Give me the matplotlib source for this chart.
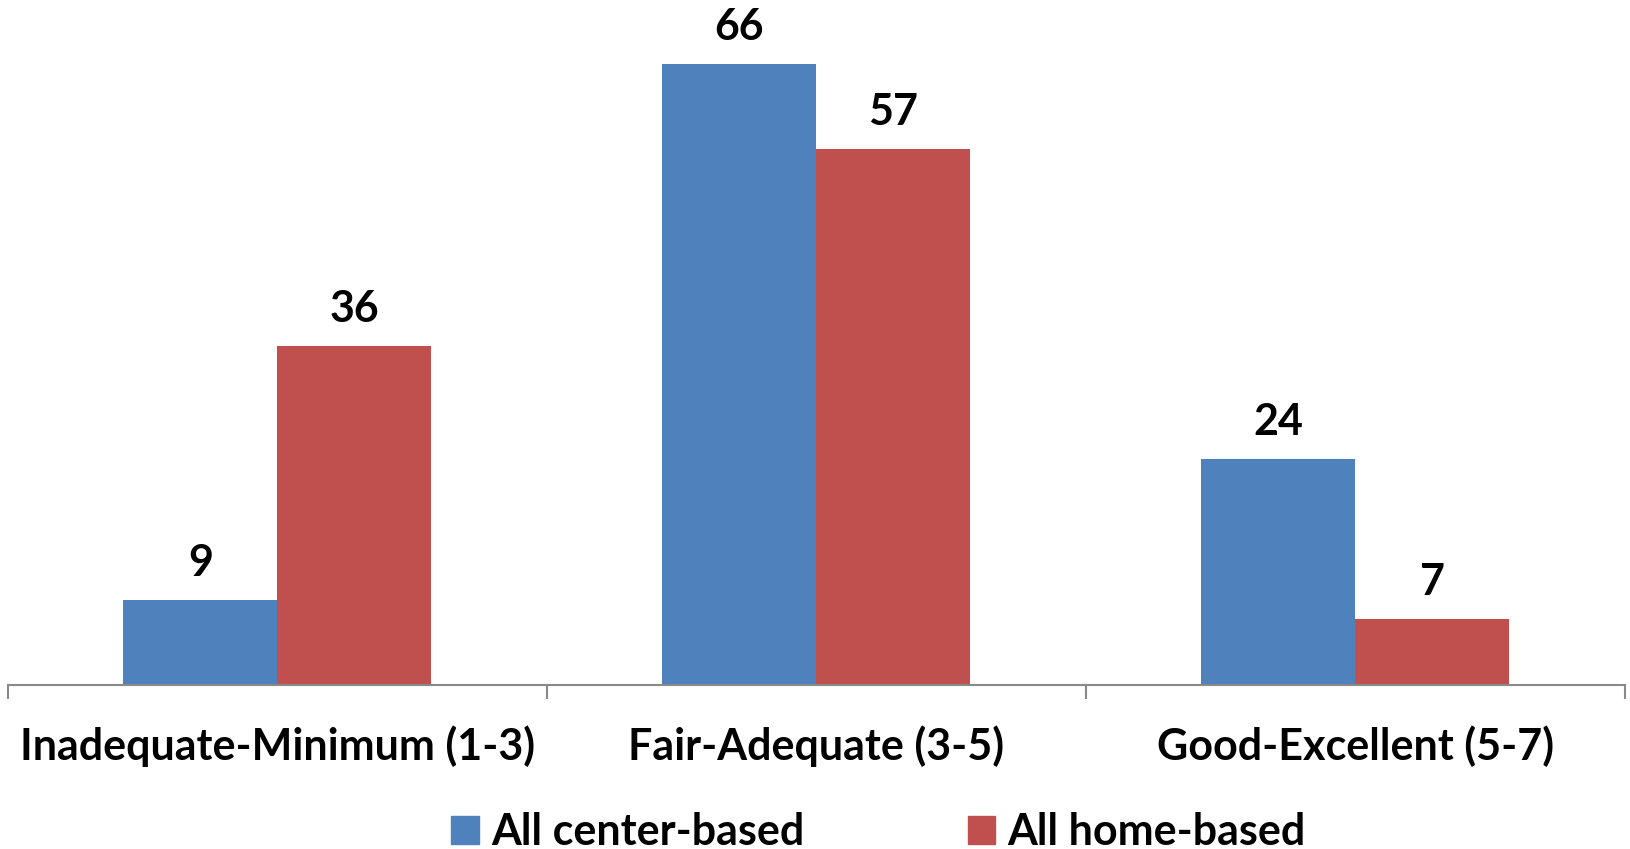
import numpy as np
import matplotlib.pyplot as plt
from matplotlib.patches import Patch

categories = ["Inadequate-Minimum (1-3)", "Fair-Adequate (3-5)", "Good-Excellent (5-7)"]
series_names = ["All center-based", "All home-based"]
center_based = [9, 66, 24]
home_based = [36, 57, 7]

BLUE = "#4F81BD"
RED = "#C0504D"
GRID = "#898989"
FS = 31

plt.rcParams["font.family"] = ["Lato", "DejaVu Sans"]
plt.rcParams["font.weight"] = "bold"

fig = plt.figure(figsize=(16.3, 8.49), dpi=100)
ax = fig.add_axes([0.0049, 0.1932, 0.992, 0.7974])

x = np.arange(len(categories))
w = 0.2857
bars_c = ax.bar(x - w / 2, center_based, w, color=BLUE, label=series_names[0])
bars_h = ax.bar(x + w / 2, home_based, w, color=RED, label=series_names[1])

for bars, vals in [(bars_c, center_based), (bars_h, home_based)]:
    for b, v in zip(bars, vals):
        ax.annotate(str(v), (b.get_x() + b.get_width() / 2, v),
                    xytext=(0, 27), textcoords="offset points",
                    ha="center", va="center", fontsize=FS, fontweight="bold")

ax.set_xlim(-0.5, 2.5)
ax.set_ylim(0, 72)

for s in ["top", "right", "left"]:
    ax.spines[s].set_visible(False)
ax.spines["bottom"].set_color(GRID)
ax.spines["bottom"].set_linewidth(1.5)
ax.set_yticks([])

# category labels sit between boundary ticks
ax.set_xticks(x)
ax.set_xticklabels(categories, fontsize=FS, fontweight="bold")
ax.tick_params(axis="x", length=0, pad=29)
ax.set_xticks([-0.5, 0.5, 1.5, 2.5], minor=True)
ax.tick_params(axis="x", which="minor", length=10, width=1.5, color=GRID)

handles = [Patch(color=BLUE, label=series_names[0]),
           Patch(color=RED, label=series_names[1])]
fig.legend(handles=handles, loc="center", bbox_to_anchor=(0.539, 0.02),
           ncol=2, frameon=False, prop={"weight": "bold", "size": FS},
           handlelength=0.63, handleheight=0.63, handletextpad=0.29,
           columnspacing=3.8, borderpad=0)

fig.savefig("out.png", dpi=100)
